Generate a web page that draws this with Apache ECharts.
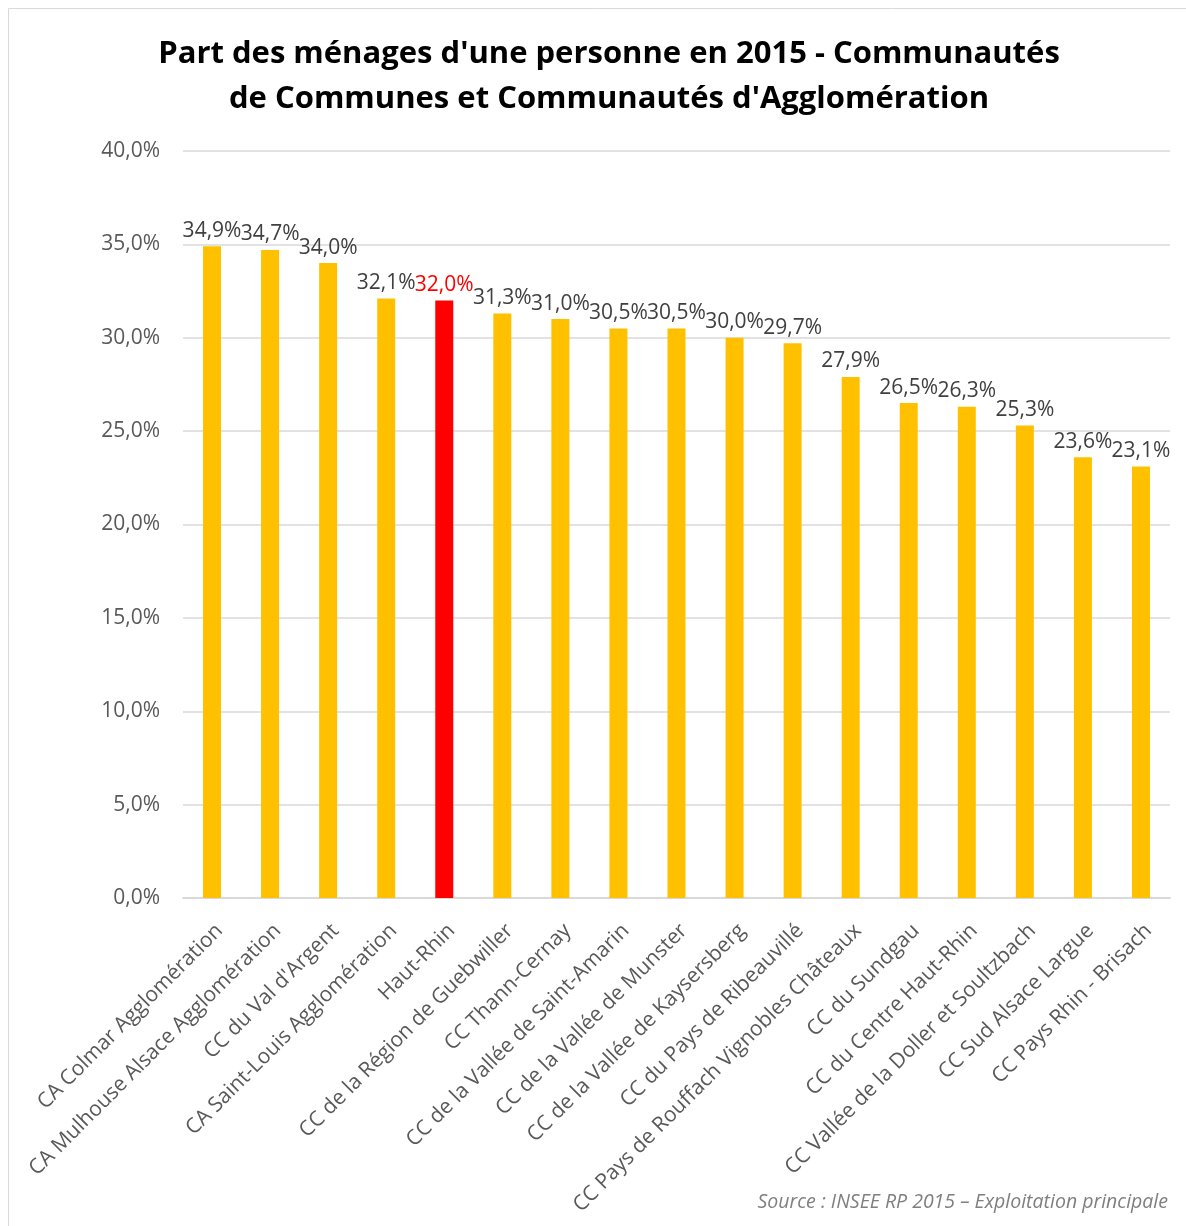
<!DOCTYPE html>
<html>
<head>
<meta charset="utf-8">
<script src="https://cdn.jsdelivr.net/npm/echarts@6/dist/echarts.min.js"></script>
<style>
  html, body { margin: 0; padding: 0; background: #fff; }
  #chart { width: 1186px; height: 1226px; }
</style>
</head>
<body>
<div id="chart"></div>
<script>
const categories = [
  'CA Colmar Agglomération',
  'CA Mulhouse Alsace Agglomération',
  "CC du Val d'Argent",
  'CA Saint-Louis Agglomération',
  'Haut-Rhin',
  'CC de la Région de Guebwiller',
  'CC Thann-Cernay',
  'CC de la Vallée de Saint-Amarin',
  'CC de la Vallée de Munster',
  'CC de la Vallée de Kaysersberg',
  'CC du Pays de Ribeauvillé',
  'CC Pays de Rouffach Vignobles Châteaux',
  'CC du Sundgau',
  'CC du Centre Haut-Rhin',
  'CC Vallée de la Doller et Soultzbach',
  'CC Sud Alsace Largue',
  'CC Pays Rhin - Brisach',
];
const values = [34.9, 34.7, 34.0, 32.1, 32.0, 31.3, 31.0, 30.5, 30.5, 30.0, 29.7, 27.9, 26.5, 26.3, 25.3, 23.6, 23.1];
const highlight = 'Haut-Rhin';
const yTicks = { min: 0, max: 40, interval: 5 };

const fmt = v => v.toFixed(1).replace('.', ',') + '%';
const FONT = '"Open Sans", "DejaVu Sans", sans-serif';

const chart = echarts.init(document.getElementById('chart'), null, { renderer: 'canvas' });

// Haut-Rhin (département) en rouge, les EPCI en jaune
const barData = values.map((v, i) => {
  const isHl = categories[i] === highlight;
  return {
    value: v,
    itemStyle: { color: isHl ? '#ff0000' : '#ffc000' },
    label: { color: isHl ? '#ff0000' : '#404040' },
  };
});

chart.setOption({
  animation: false,
  title: {
    text: "Part des ménages d'une personne en 2015 - Communautés\nde Communes et Communautés d'Agglomération",
    left: 604,
    top: 27,
    textAlign: 'center',
    textStyle: {
      fontFamily: FONT,
      fontSize: 31,
      fontWeight: 'bold',
      color: '#000',
      lineHeight: 45,
    },
  },
  graphic: [
    {
      type: 'rect',
      shape: { x: 8.5, y: 8.5, width: 1190, height: 1230 },
      style: { fill: null, stroke: '#d9d9d9', lineWidth: 1 },
      silent: true,
    },
    {
      type: 'text',
      right: 18,
      top: 1192,
      style: {
        text: 'Source : INSEE RP 2015 – Exploitation principale',
        fill: '#7f7f7f',
        font: 'italic 19.5px ' + FONT,
      },
    },
  ],
  grid: { left: 183, right: 16, top: 151, bottom: 328, containLabel: false },
  xAxis: {
    type: 'category',
    data: categories,
    axisLine: { lineStyle: { color: '#d9d9d9', width: 2 } },
    axisTick: { show: false },
    axisLabel: {
      interval: 0,
      rotate: 45,
      margin: 22,
      verticalAlign: 'top',
      color: '#595959',
      fontFamily: FONT,
      fontSize: 21,
    },
  },
  yAxis: {
    type: 'value',
    min: yTicks.min,
    max: yTicks.max,
    interval: yTicks.interval,
    axisLine: { show: false },
    axisTick: { show: false },
    splitLine: { lineStyle: { color: '#d9d9d9', width: 1.5 } },
    axisLabel: {
      margin: 23,
      color: '#595959',
      fontFamily: FONT,
      fontSize: 21,
      formatter: v => v.toFixed(1).replace('.', ',') + '%',
    },
  },
  series: [
    {
      type: 'bar',
      data: barData,
      barWidth: 18,
      label: {
        show: true,
        position: 'top',
        distance: 5,
        fontFamily: FONT,
        fontSize: 21,
        formatter: p => fmt(p.value),
      },
    },
  ],
});
</script>
</body>
</html>
